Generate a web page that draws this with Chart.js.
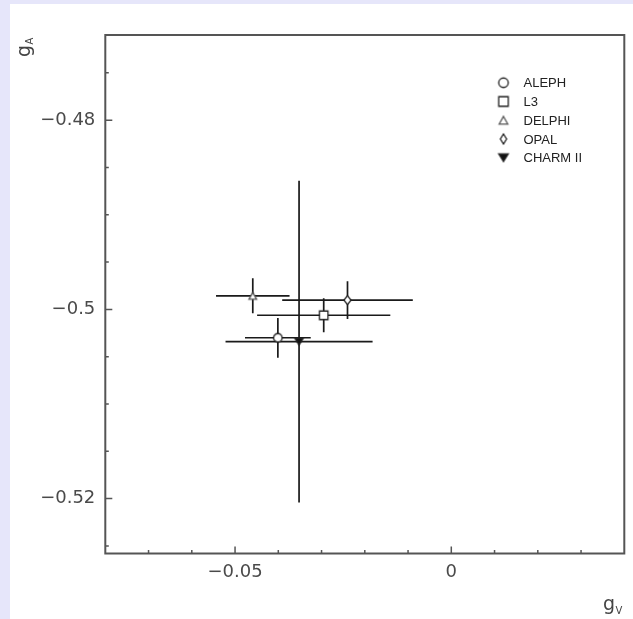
<!DOCTYPE html>
<html><head><meta charset="utf-8">
<script src="https://cdn.jsdelivr.net/npm/chart.js@4.4.1/dist/chart.umd.min.js"></script>
<style>html,body{margin:0;padding:0;background:#e6e6fa;}#wrap{width:633px;height:619px;position:relative}canvas{display:block}</style>
</head><body><div id="wrap"><canvas id="c" width="633" height="619"></canvas></div>
<script>
// ---- data ----
const experiments = ['ALEPH', 'L3', 'DELPHI', 'OPAL', 'CHARM II'];
const gV    = [-0.0401, -0.0295, -0.0459, -0.0240, -0.0352];
const gVErr = [ 0.0076,  0.0154,  0.0085,  0.0151,  0.0170];
const gA    = [-0.5030, -0.50062, -0.49857, -0.49902, -0.5034];
const gAErr = [ 0.0021,  0.0018,  0.00185, 0.0020,  0.0170];
const markerKinds = ['circle', 'square', 'triangle', 'diamond', 'down'];

const xMajorTicks = [-0.05, 0];
const xTickLabels = ['\u22120.05', '0'];
const xMinorTicks = [-0.07, -0.06, -0.04, -0.03, -0.02, -0.01, 0.01, 0.02, 0.03];
const yMajorTicks = [-0.48, -0.50, -0.52];
const yTickLabels = ['\u22120.48', '\u22120.5', '\u22120.52'];
const yMinorTicks = [-0.525, -0.515, -0.51, -0.505, -0.495, -0.49, -0.485, -0.475];

// ---- marker images ----
function makeMarker(kind, s, diamondRatio) {
  const pad = 2;
  const c = document.createElement('canvas');
  const w = Math.ceil(s + pad * 2), h = Math.ceil(s + pad * 2);
  c.width = w; c.height = h;
  const g = c.getContext('2d');
  const cx = w / 2, cy = h / 2;
  g.lineWidth = 1.3;
  g.strokeStyle = '#222';
  g.fillStyle = '#fff';
  g.beginPath();
  if (kind === 'circle') {
    g.arc(cx, cy, s / 2, 0, Math.PI * 2);
  } else if (kind === 'square') {
    g.rect(cx - s / 2, cy - s / 2, s, s);
  } else if (kind === 'triangle') {
    const tw = s * 0.9, th = s * 0.8;
    g.moveTo(cx, cy - th / 2); g.lineTo(cx + tw / 2, cy + th / 2); g.lineTo(cx - tw / 2, cy + th / 2); g.closePath();
    g.strokeStyle = '#555';
  } else if (kind === 'diamond') {
    const dw = s * diamondRatio, dh = s * 1.05;
    g.moveTo(cx, cy - dh / 2); g.lineTo(cx + dw / 2, cy); g.lineTo(cx, cy + dh / 2); g.lineTo(cx - dw / 2, cy); g.closePath();
  } else if (kind === 'down') {
    const th = s * 0.8;
    g.moveTo(cx - s / 2, cy - th / 2); g.lineTo(cx + s / 2, cy - th / 2); g.lineTo(cx, cy + th / 2); g.closePath();
    g.fillStyle = '#111';
  }
  g.fill(); g.stroke();
  return c;
}
const plotMarkers = markerKinds.map(k => makeMarker(k, 8.5, 0.85));
const legendMarkers = markerKinds.map(k => makeMarker(k, 9.5, 0.65));

const tickFont = { family: 'DejaVu Sans', size: 18 };
const tickColor = '#4a4a4a';

const framePlugin = {
  id: 'frame',
  beforeDraw(chart) {
    const ctx = chart.ctx;
    ctx.save();
    ctx.fillStyle = '#e6e6fa';
    ctx.fillRect(0, 0, chart.width, chart.height);
    ctx.fillStyle = '#ffffff';
    ctx.fillRect(10, 4, chart.width - 10, chart.height - 4);
    ctx.restore();
  },
  beforeDatasetsDraw(chart) {
    const ctx = chart.ctx, a = chart.chartArea;
    const xs = chart.scales.x, ys = chart.scales.y;
    ctx.save();
    ctx.strokeStyle = '#555';
    ctx.lineWidth = 1.5;
    ctx.beginPath();
    xMajorTicks.forEach(v => { const p = xs.getPixelForValue(v); ctx.moveTo(p, a.bottom); ctx.lineTo(p, a.bottom - 7); });
    xMinorTicks.forEach(v => { const p = xs.getPixelForValue(v); ctx.moveTo(p, a.bottom); ctx.lineTo(p, a.bottom - 3.5); });
    yMajorTicks.forEach(v => { const p = ys.getPixelForValue(v); ctx.moveTo(a.left, p); ctx.lineTo(a.left + 7, p); });
    yMinorTicks.forEach(v => { const p = ys.getPixelForValue(v); ctx.moveTo(a.left, p); ctx.lineTo(a.left + 3.5, p); });
    ctx.stroke();
    ctx.lineWidth = 2;
    ctx.strokeRect(a.left, a.top, a.right - a.left, a.bottom - a.top);
    // error bars
    ctx.strokeStyle = '#1a1a1a';
    ctx.lineWidth = 1.7;
    ctx.lineCap = 'butt';
    for (let i = 0; i < experiments.length; i++) {
      const px = xs.getPixelForValue(gV[i]), py = ys.getPixelForValue(gA[i]);
      const x1 = xs.getPixelForValue(gV[i] - gVErr[i]), x2 = xs.getPixelForValue(gV[i] + gVErr[i]);
      const y1 = ys.getPixelForValue(gA[i] - gAErr[i]), y2 = ys.getPixelForValue(gA[i] + gAErr[i]);
      ctx.beginPath();
      ctx.moveTo(x1, py); ctx.lineTo(x2, py);
      ctx.moveTo(px, y1); ctx.lineTo(px, y2);
      ctx.stroke();
    }
    ctx.restore();
  },
  afterDatasetsDraw(chart) {
    const ctx = chart.ctx;
    ctx.save();
    // legend
    const lx = 503.5, tx = 523.5, y0 = 82.7, dy = 18.75;
    ctx.font = '13px "Liberation Sans"';
    ctx.fillStyle = '#222';
    ctx.textBaseline = 'alphabetic';
    ctx.textAlign = 'left';
    experiments.forEach((name, i) => {
      const y = y0 + i * dy;
      const m = legendMarkers[i];
      ctx.drawImage(m, lx - m.width / 2, y - m.height / 2);
      ctx.fillText(name, tx, y + 4.6);
    });
    // axis titles
    ctx.fillStyle = '#444';
    ctx.save();
    ctx.translate(30, 57);
    ctx.rotate(-Math.PI / 2);
    ctx.font = '19px "DejaVu Sans"';
    ctx.fillText('g', 0, 0);
    const gw = ctx.measureText('g').width;
    ctx.font = '10px "DejaVu Sans"';
    ctx.fillText('A', gw + 0.5, 3);
    ctx.restore();
    ctx.font = '19px "DejaVu Sans"';
    ctx.fillText('g', 603, 610);
    const gw2 = ctx.measureText('g').width;
    ctx.font = '10px "DejaVu Sans"';
    ctx.fillText('V', 603 + gw2 + 0.5, 614);
    ctx.restore();
  }
};

const datasets = experiments.map((name, i) => ({
  label: name,
  data: [{ x: gV[i], y: gA[i] }],
  pointStyle: plotMarkers[i],
  pointRadius: 4,
  pointHoverRadius: 4,
  clip: false
}));

new Chart(document.getElementById('c'), {
  type: 'scatter',
  data: { datasets },
  options: {
    responsive: false,
    animation: false,
    devicePixelRatio: 1,
    layout: { padding: { left: 0, top: 35, right: 8.7, bottom: 0 } },
    plugins: { legend: { display: false }, tooltip: { enabled: false } },
    events: [],
    scales: {
      x: {
        type: 'linear', min: -0.08, max: 0.04,
        afterBuildTicks: s => { s.ticks = xMajorTicks.map(v => ({ value: v })); },
        afterFit: s => { s.height = 65.5; },
        grid: { display: false, drawTicks: false },
        border: { display: false },
        ticks: { autoSkip: false, maxRotation: 0, padding: 8, font: tickFont, color: tickColor,
                 callback: (v, i) => xTickLabels[i] }
      },
      y: {
        type: 'linear', min: -0.5258, max: -0.4710,
        afterBuildTicks: s => { s.ticks = yMajorTicks.map(v => ({ value: v })); },
        afterFit: s => { s.width = 105.3; },
        grid: { display: false, drawTicks: false },
        border: { display: false },
        ticks: { autoSkip: false, padding: 10, font: tickFont, color: tickColor,
                 callback: (v, i) => yTickLabels[i] }
      }
    }
  },
  plugins: [framePlugin]
});
</script>
</body></html>
